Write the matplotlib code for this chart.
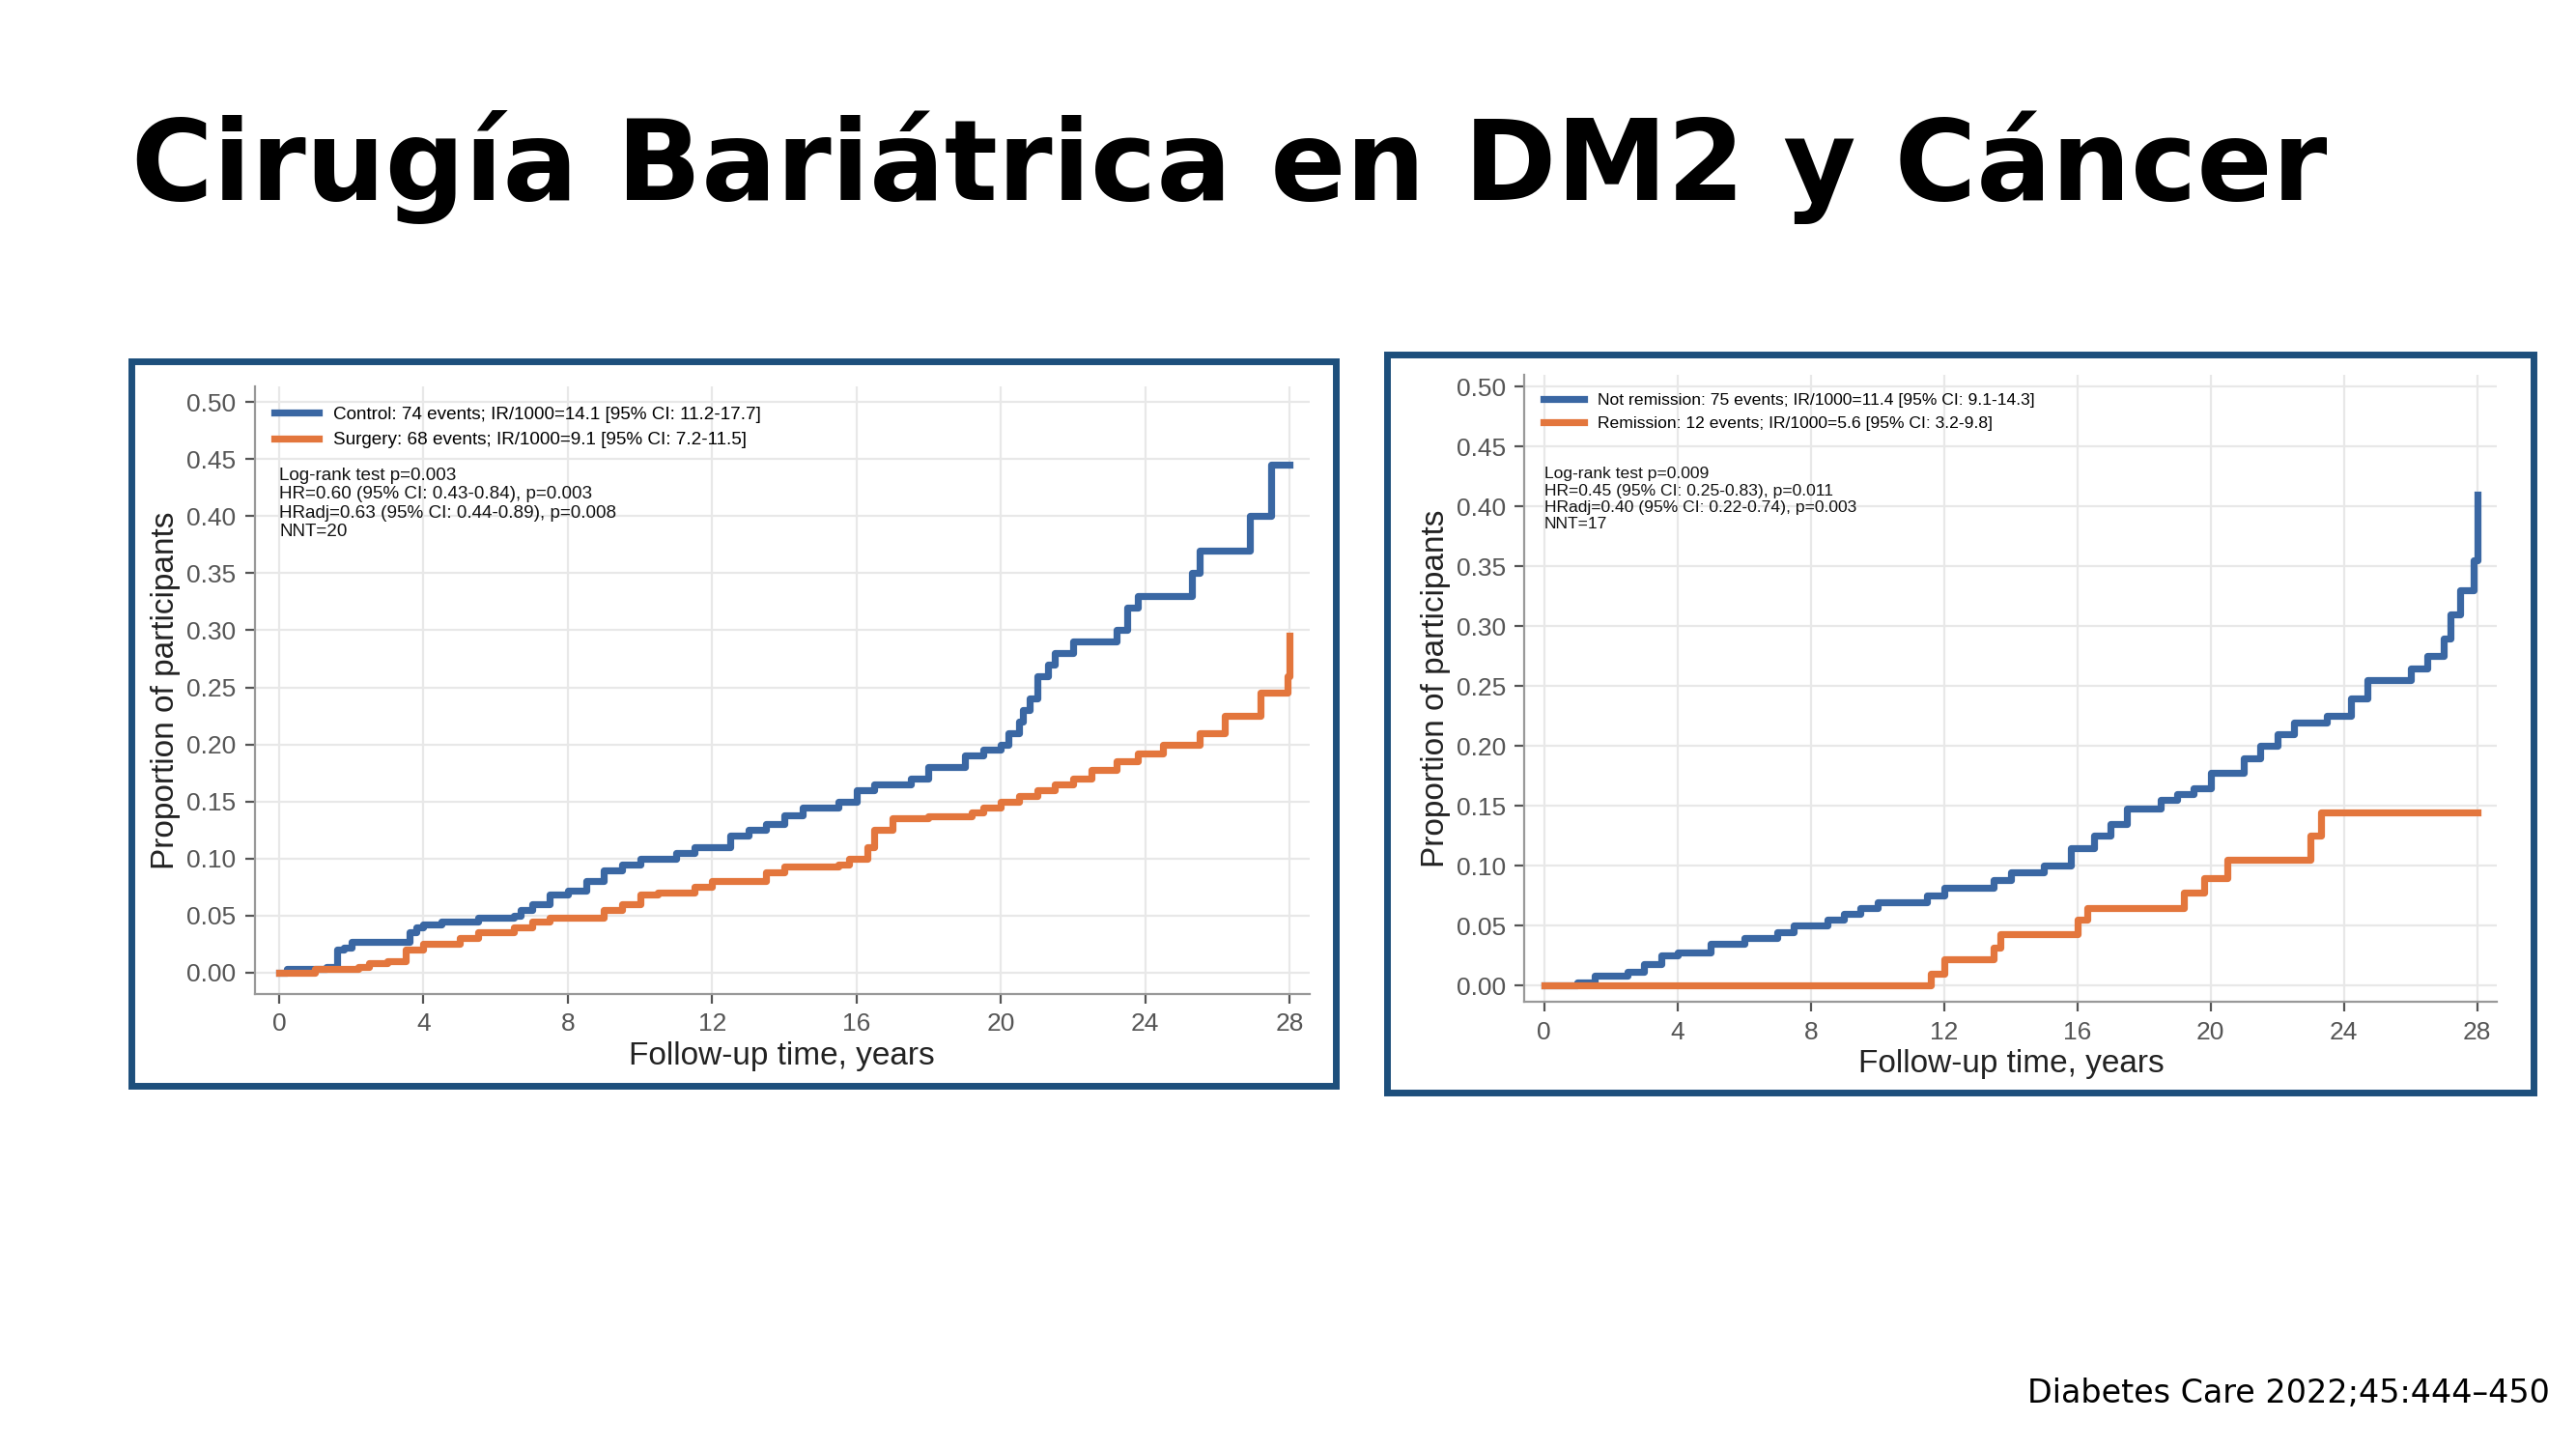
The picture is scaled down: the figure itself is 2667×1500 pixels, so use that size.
import numpy as np
import matplotlib.pyplot as plt
from matplotlib.patches import Rectangle

# step curve data (time in years, cumulative proportion)
ctrl_t = [0, 0.2, 1, 1.3, 1.6, 1.8, 2, 3.5, 3.6, 3.8, 4, 4.5, 5.5, 6.5, 6.7, 7, 7.5, 8, 8.5, 9, 9.5, 10, 11, 11.5,
          12.5, 13, 13.5, 14, 14.5, 15.5, 16, 16.5, 17.5, 18, 19, 19.5, 20, 20.2, 20.5, 20.6, 20.8, 21, 21.3, 21.5,
          22, 23.2, 23.5, 23.8, 25.3, 25.5, 26.9, 27.5, 28]
ctrl_v = [0, 0.003, 0.003, 0.005, 0.02, 0.022, 0.027, 0.027, 0.035, 0.04, 0.042, 0.045, 0.048, 0.05, 0.055, 0.06,
          0.068, 0.072, 0.08, 0.09, 0.095, 0.1, 0.105, 0.11, 0.12, 0.125, 0.13, 0.138, 0.145, 0.15, 0.16, 0.165, 0.17,
          0.18, 0.19, 0.195, 0.2, 0.21, 0.22, 0.23, 0.24, 0.26, 0.27, 0.28, 0.29, 0.3, 0.32, 0.33, 0.35, 0.37, 0.40,
          0.445, 0.445]
surg_t = [0, 1, 2.2, 2.5, 3, 3.5, 4, 5, 5.5, 6.5, 7, 7.5, 9, 9.5, 10, 10.5, 11.5, 12, 13.5, 14, 15.5, 15.8, 16.3,
          16.5, 17, 18, 19.2, 19.5, 20, 20.5, 21, 21.5, 22, 22.5, 23.2, 23.8, 24.5, 25.5, 26.2, 27.2, 27.95, 28]
surg_v = [0, 0.003, 0.005, 0.008, 0.01, 0.02, 0.025, 0.03, 0.035, 0.04, 0.045, 0.048, 0.055, 0.06, 0.068, 0.07,
          0.075, 0.08, 0.088, 0.093, 0.095, 0.1, 0.11, 0.125, 0.135, 0.137, 0.14, 0.145, 0.15, 0.155, 0.16, 0.165,
          0.17, 0.178, 0.185, 0.192, 0.2, 0.21, 0.225, 0.245, 0.26, 0.295]
norem_t = [0, 1, 1.5, 2.5, 3, 3.5, 4, 5, 6, 7, 7.5, 8.5, 9, 9.5, 10, 11.5, 12, 13.5, 14, 15, 15.8, 16.5, 17, 17.5,
           18.5, 19, 19.5, 20, 21, 21.5, 22, 22.5, 23.5, 24.2, 24.7, 26, 26.5, 27, 27.2, 27.5, 27.9, 28]
norem_v = [0, 0.003, 0.008, 0.012, 0.018, 0.025, 0.028, 0.035, 0.04, 0.045, 0.05, 0.055, 0.06, 0.065, 0.07, 0.075,
           0.082, 0.088, 0.095, 0.1, 0.115, 0.125, 0.135, 0.148, 0.155, 0.16, 0.165, 0.178, 0.19, 0.2, 0.21, 0.22,
           0.225, 0.24, 0.255, 0.265, 0.275, 0.29, 0.31, 0.33, 0.355, 0.41]
rem_t = [0, 11.5, 11.6, 12, 13.5, 13.7, 16, 16.3, 19.2, 19.8, 20.5, 23, 23.3, 28]
rem_v = [0, 0, 0.01, 0.022, 0.032, 0.043, 0.055, 0.065, 0.078, 0.09, 0.105, 0.125, 0.145, 0.145]

left_labels = ["Control: 74 events; IR/1000=14.1 [95% CI: 11.2-17.7]",
               "Surgery: 68 events; IR/1000=9.1 [95% CI: 7.2-11.5]"]
left_stats = "Log-rank test p=0.003\nHR=0.60 (95% CI: 0.43-0.84), p=0.003\nHRadj=0.63 (95% CI: 0.44-0.89), p=0.008\nNNT=20"
right_labels = ["Not remission: 75 events; IR/1000=11.4 [95% CI: 9.1-14.3]",
                "Remission: 12 events; IR/1000=5.6 [95% CI: 3.2-9.8]"]
right_stats = "Log-rank test p=0.009\nHR=0.45 (95% CI: 0.25-0.83), p=0.011\nHRadj=0.40 (95% CI: 0.22-0.74), p=0.003\nNNT=17"

BLUE = '#3a67a3'
ORANGE = '#e3763d'
FRAME = '#1d4f7c'
CHART_FONT = ['Liberation Sans', 'DejaVu Sans']

fig = plt.figure(figsize=(13.335, 7.5), dpi=200)
fig.text(0.051, 0.885, "Cirugía Bariátrica en DM2 y Cáncer", fontsize=41.5, fontweight='bold', va='center')
fig.text(0.99, 0.038, "Diabetes Care 2022;45:444–450", fontsize=12, ha='right', va='center')

fig.add_artist(Rectangle((80/1568, 1-661/882), (813-80)/1568, (661-220)/882, transform=fig.transFigure,
                         fill=False, ec=FRAME, lw=2.5))
fig.add_artist(Rectangle((844/1568, 1-665/882), (1542-844)/1568, (665-216)/882, transform=fig.transFigure,
                         fill=False, ec=FRAME, lw=2.5))


def panel(rect, xlim, ylim, curves, labels, stats, stats_y, lsize):
    ax = fig.add_axes(rect)
    for (t, v), c, lab in zip(curves, [BLUE, ORANGE], labels):
        ax.step(t, v, where='post', color=c, lw=2.6, label=lab)
    ax.set_xlim(*xlim)
    ax.set_ylim(*ylim)
    ax.set_xticks(np.arange(0, 29, 4))
    ax.set_yticks(np.arange(0, 0.51, 0.05))
    ax.yaxis.set_major_formatter(plt.FormatStrFormatter('%.2f'))
    ax.grid(color='#e8e8e8', lw=0.8)
    for s in ['top', 'right']:
        ax.spines[s].set_visible(False)
    for s in ['left', 'bottom']:
        ax.spines[s].set_color('#999999')
    ax.tick_params(colors='#555555', labelsize=9.5, labelcolor='#555555')
    for lb in ax.get_xticklabels() + ax.get_yticklabels():
        lb.set_family(CHART_FONT)
    ax.set_xlabel("Follow-up time, years", fontsize=12, color='#222222', labelpad=2, family=CHART_FONT)
    ax.set_ylabel("Proportion of participants", fontsize=12, color='#222222', labelpad=2, family=CHART_FONT)
    ax.legend(loc='upper left', prop={'family': CHART_FONT, 'size': lsize}, frameon=False,
              handlelength=2.4, borderaxespad=0.7)
    ax.text(0.0, stats_y, stats, fontsize=lsize, va='top', linespacing=1.2, color='#111111', family=CHART_FONT)
    return ax


panel([928/1568, 1-610/882, (1520-928)/1568, (610-228)/882], (-0.59, 28.6), (-0.0137, 0.51),
      [(norem_t, norem_v), (rem_t, rem_v)], right_labels, right_stats, 0.433, 6.3)
panel([155/1568, 1-605/882, (797-155)/1568, (605-235)/882], (-0.68, 28.55), (-0.0187, 0.514),
      [(ctrl_t, ctrl_v), (surg_t, surg_v)], left_labels, left_stats, 0.443, 6.8)

fig.savefig("out.png")
